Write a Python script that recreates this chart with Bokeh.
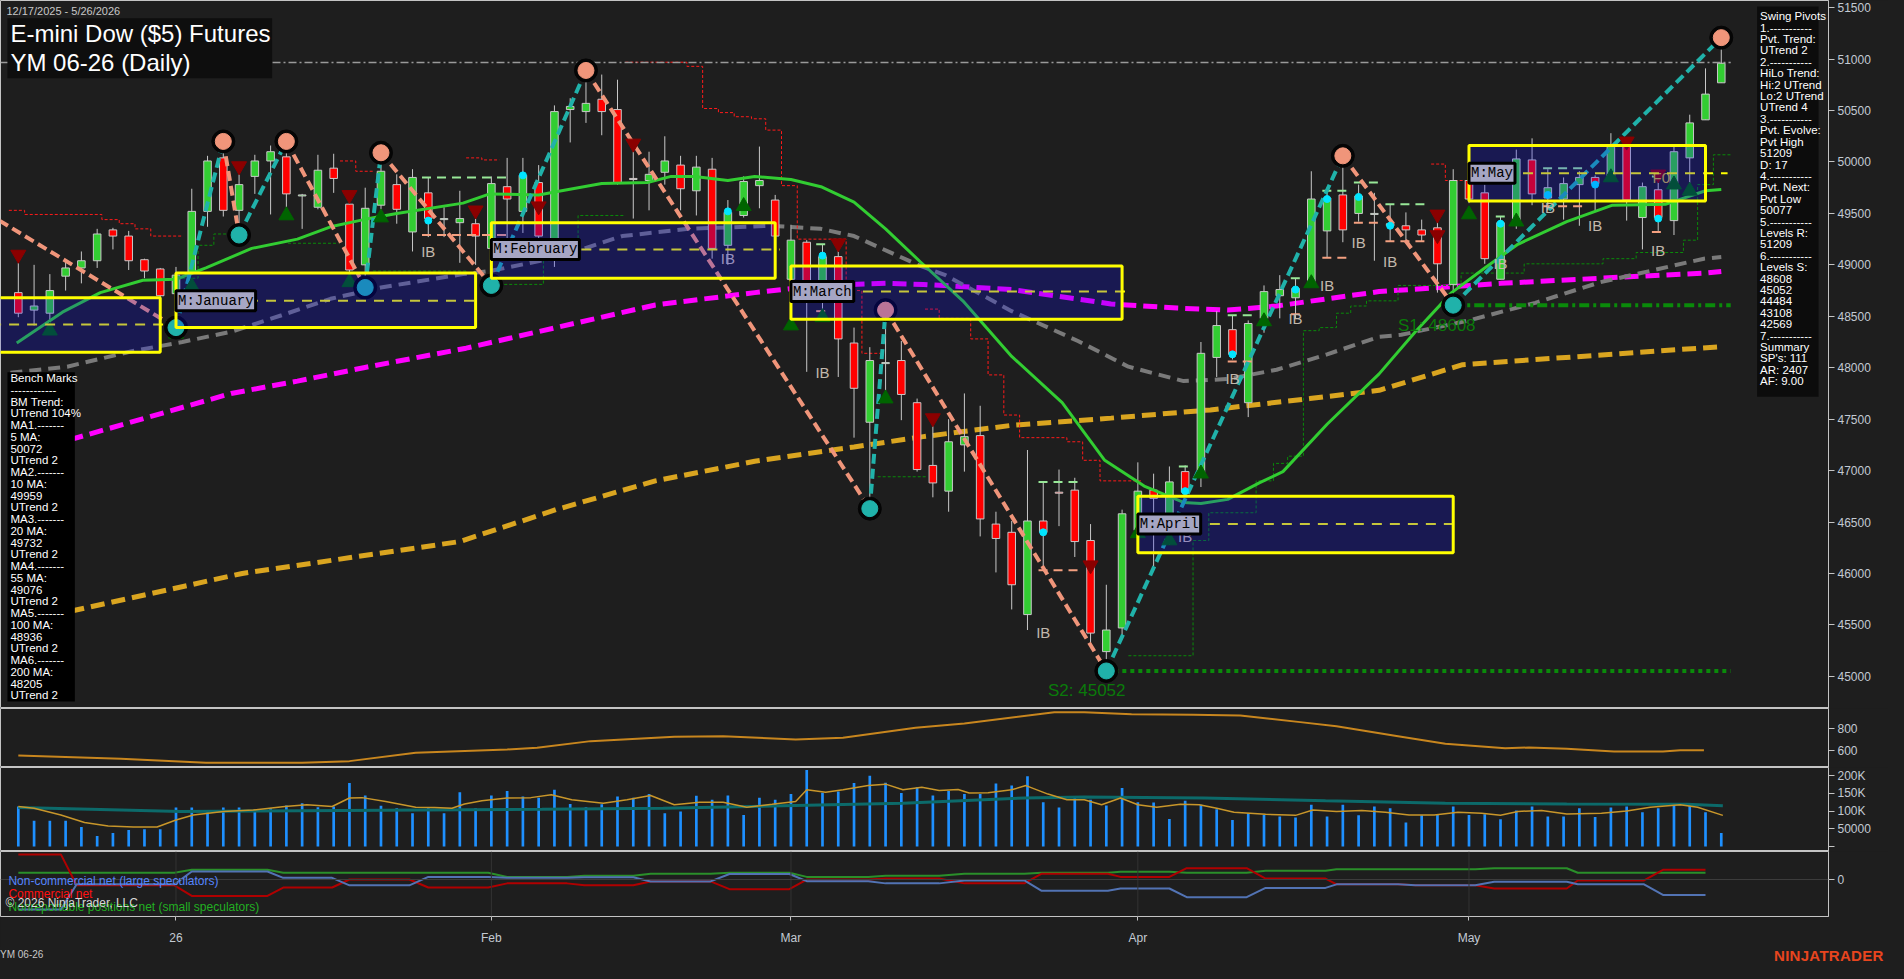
import numpy as np
from bokeh.plotting import figure
from bokeh.layouts import column
from bokeh.models import Range1d, FixedTicker, Label, BoxAnnotation, Span, Div, GlobalInlineStyleSheet
from bokeh.core.properties import value
from bokeh.embed import file_html
from bokeh.resources import INLINE

# ---------------------------------------------------------------- data
# daily bars 12/17/2025 .. 5/26/2026 (index 0 = Dec 17)
opens = [48730, 48560, 48530, 48890, 48970, 49040, 49340, 49280, 49050, 48960,
         48720, 48920, 49520, 50040, 49530, 49860, 50010, 50050, 49670, 49560,
         49940, 49590, 49000, 49580, 49780, 49320, 49700, 49440, 49410, 49400,
         49160, 49760, 49520, 49800, 49160, 50510, 50490, 50610, 50510, 49840,
         49820, 49900, 49970, 49720, 49930, 49190, 49480, 49770, 49630,
         48860, 49220, 48840, 49080, 48240, 47470, 48040, 48070, 47660, 47050,
         46800, 47250, 47340, 46480, 46400, 45600, 46510, 46790, 46810, 46320,
         45240, 45470,
         46420, 46810, 46550, 46990, 46970, 48100, 48370, 47660, 48480, 48700,
         48680, 48810, 49330, 49680, 49500, 49490, 49380, 49380, 49340, 49360,
         48810,
         49820, 49700, 48860, 49390, 50020, 49650, 49640, 49780, 49850, 49840,
         50150, 49460, 49730, 49430, 50040, 50410, 50770]
highs = [49017, 49000, 48910, 49050, 49130, 49350, 49360, 49330, 49060, 48970,
         48980, 49740, 50060, 50200, 49880, 50070, 50160, 50200, 49690, 50070,
         50080, 49680, 49750, 50090, 49880, 49930, 49850, 49560, 49720, 49450,
         49860, 50040, 50040, 49970, 50550, 50620, 50890, 50850, 50800, 50100,
         50100, 50250, 50060, 50060, 50040, 49630, 49860, 50150, 49680,
         49390, 49240, 49200, 49160, 48390, 48200, 48560, 48260, 47700, 47440,
         47500, 47750, 47630, 46600, 46510, 47200, 46890, 47010, 46930, 46480,
         45890, 46620,
         47080, 46970, 47040, 47050, 48250, 48550, 48510, 48460, 48800, 48900,
         48870, 49910, 49730, 50060, 49780, 49700, 49590, 49510, 49440, 49530,
         49930,
         49900, 49780, 49470, 50120, 50230, 49930, 49850, 49910, 49870, 50280,
         50200, 49800, 49830, 50160, 50460, 50910, 51209]
lows = [48491, 48410, 48410, 48750, 48820, 48970, 49150, 48950, 48870, 48650,
        48390, 48920, 49370, 49470, 49290, 49690, 49490, 49560, 49350, 49540,
        49700, 48870, 48780, 49470, 49400, 49130, 49270, 49270, 49020, 49000,
        48800, 49160, 49310, 49120, 48980, 50190, 50380, 50260, 49780, 49450,
        49530, 49780, 49530, 49480, 49060, 49000, 49460, 49550, 49270,
        48840, 47960, 48530, 47910, 47320, 46630, 47750, 47490, 46990, 46740,
        46600, 46990, 46360, 46010, 45650, 45450, 46030, 46460, 46160, 45330,
        45052, 45360,
        46330, 46070, 46280, 46780, 46840, 47910, 48080, 47520, 48340, 48480,
        48480, 48800, 49070, 49220, 49420, 49040, 49230, 49230, 49230, 48730,
        48608,
        49600, 49010, 48860, 49350, 49580, 49530, 49440, 49380, 49520, 49820,
        49430, 49150, 49330, 49290, 49770, 50410, 50770]
closes = [48530, 48600, 48750, 48970, 49040, 49300, 49280, 49040, 48940, 48700,
          48900, 49520, 50010, 49530, 49780, 50010, 50100, 49690, 49680, 49920,
          49840, 48950, 49550, 49910, 49540, 49850, 49450, 49450, 49450, 49280,
          49790, 49640, 49870, 49280, 50490, 50540, 50570, 50490, 49800, 49830,
          49880, 50010, 49740, 49950, 49160, 49510, 49810, 49820, 49280,
          49240, 48840, 49080, 48280, 47800, 48070, 48050, 47740, 47010, 46880,
          47280, 47330, 46530, 46340, 45890, 46510, 46400, 46780, 46310, 45420,
          45450, 46580,
          46800, 46730, 46890, 46790, 48140, 48410, 48130, 48430, 48740, 48760,
          48770, 49640, 49650, 49340, 49670, 49500, 49400, 49340, 49290, 49010,
          49820,
          49640, 49060, 49410, 50030, 49690, 49750, 49790, 49850, 49790, 50160,
          49630, 49760, 49460, 50100, 50380, 50660, 50960]

# daily volume, thousands of contracts
volume_k = [113, 73, 73, 73, 55, 30, 38, 47, 49, 49,
            110, 110, 103, 110, 110, 103, 108, 116, 122, 111,
            113, 179, 144, 115, 108, 94, 108, 94, 153, 108,
            144, 157, 141, 138, 160, 120, 111, 119, 141, 138,
            148, 94, 99, 143, 132, 144, 89, 138, 132,
            148, 216, 152, 155, 179, 200, 180, 151, 167, 144,
            157, 148, 148, 178, 172, 198, 125, 110, 138, 132,
            116, 165,
            125, 124, 78, 129, 118, 105, 75, 94, 89, 85,
            82, 118, 85, 118, 88, 113, 108, 68, 88, 91,
            113,
            89, 91, 77, 102, 113, 85, 85, 108, 83, 110,
            113, 97, 108, 116, 119, 97, 38]
vol_avg_x = [0.0, 1.0, 2.7, 4.2, 5.7, 7.3, 8.8, 10.0, 11.1, 13.0, 14.9, 16.9, 18.3, 19.9, 21.0,
             21.8, 23.3, 25.2, 26.4, 27.5, 28.3, 29.4, 31.0, 32.5, 33.8, 35.1, 37.1, 38.6,
             40.1, 41.6, 43.2, 44.7, 46.2, 47.8, 49.3, 50.0, 51.2, 52.3, 53.9, 55.0, 56.1,
             57.3, 58.4, 59.6, 60.3, 61.5, 63.0, 63.9, 65.3, 66.5, 67.6, 68.7, 69.9, 71.0,
             72.2, 73.7, 74.9, 76.0, 77.1, 79.1, 81.0, 82.1, 83.6, 85.2, 86.7, 88.2, 89.8,
             91.3, 92.8, 94.0, 95.1, 96.6, 98.2, 100.4, 102.0, 103.5, 105.4, 106.5, 108.1]
vol_avg_k = [113, 108, 89, 68, 58, 55, 55, 75, 89, 99, 103, 113, 118, 113, 137, 138, 127, 111,
             110, 108, 120, 129, 137, 138, 146, 132, 122, 132, 144, 118, 125, 125, 111, 119,
             127, 160, 153, 160, 172, 176, 160, 167, 158, 161, 151, 152, 160, 172, 148, 132,
             132, 118, 137, 118, 111, 119, 118, 108, 97, 91, 88, 103, 99, 102, 97, 89, 89,
             97, 94, 88, 99, 102, 92, 94, 100, 111, 118, 111, 88]
oi_x = [0.0, 6.5, 10.3, 18.0, 25.6, 33.2, 40.9, 48.5, 56.1, 63.8, 67.6, 75.2, 82.9, 90.5,
        98.2, 105.8, 108.1]
oi_k = [110, 103, 99, 101, 103, 105, 108, 115, 122, 137, 140, 137, 129, 122, 120, 119, 115]

# 20 / 55 / 100 / 200 day moving averages
ma20_x = [-0.1, 2.8, 5.2, 7.9, 10, 11.9, 14.8, 17.7, 19.8, 21.9, 24, 28.2, 29.9, 33, 34.1, 37,
          39.9, 41.4, 42.9, 45, 46.7, 49, 50.9, 53, 55, 57.2, 59.9, 63, 66.2, 68.9, 71.4,
          73.9, 75, 76.7, 78.7, 80.2, 83, 86.3, 88.6, 90.9, 93, 95.1, 98.2, 101.1, 104.5, 107, 108]
ma20_y = [48240, 48540, 48730, 48850, 48860, 48970, 49160, 49250, 49370, 49440, 49500, 49600,
          49690, 49680, 49710, 49790, 49800, 49860, 49860, 49820, 49860, 49830, 49760, 49610,
          49350, 49030, 48650, 48110, 47660, 47100, 46850, 46690, 46680, 46720, 46880, 46990,
          47450, 47940, 48350, 48730, 48970, 49200, 49420, 49580, 49590, 49720, 49732]
ma55_x = [-0.5, 3.1, 7.2, 10.4, 13.5, 16.7, 19.8, 23, 28.2, 29.9, 34.1, 38.3, 42.5, 47.7, 50.9,
          53, 57.2, 58.8, 63, 67.2, 70.4, 73.9, 76.7, 79.8, 83, 86.3, 87.7, 92, 96.2, 100.3,
          106.9, 108]
ma55_y = [47950, 48010, 48160, 48250, 48350, 48510, 48670, 48780, 48910, 48940, 49070, 49280,
          49350, 49380, 49350, 49280, 48990, 48900, 48550, 48260, 48010, 47870, 47890, 47980,
          48130, 48300, 48320, 48460, 48630, 48830, 49060, 49076]
ma100_x = [-0.6, 13.5, 17.7, 21.9, 28.4, 34.1, 40.4, 46.7, 50.9, 55, 57.4, 63, 69.3, 73.5,
           76.7, 79.8, 83, 86.3, 94, 100.3, 106.9, 108]
ma100_y = [47130, 47750, 47870, 48000, 48190, 48390, 48610, 48730, 48800, 48820, 48810, 48760,
           48620, 48580, 48560, 48600, 48670, 48740, 48820, 48870, 48920, 48936]
ma200_x = [-0.6, 14.2, 28, 34.1, 40.4, 46.7, 53, 57.4, 63, 69.3, 75.6, 81.9, 86.3, 91.6, 108]
ma200_y = [45500, 46000, 46310, 46620, 46900, 47090, 47230, 47330, 47440, 47510, 47590, 47700,
           47780, 48030, 48205]

# swing pivots (bar, price, kind)
pivot_bar = [10, 13, 14, 17, 22, 23, 30, 36, 54, 55, 69, 84, 91, 108]
pivot_px = [48390, 50200, 49290, 50200, 48780, 50090, 48800, 50890, 46630, 48560, 45052,
            50060, 48608, 51209]
pivot_kind = ["L", "H", "L", "H", "L", "H", "L", "H", "L", "H", "L", "H", "L", "H"]
swing_start = (-1.2, 49430)   # leg entering from the left edge

# monthly range boxes
box_left = [-12, 10, 30, 49, 71, 92]
box_right = [9, 29, 48, 70, 91, 107]
box_top = [48680, 48920, 49410, 48990, 46750, 50160]
box_bot = [48150, 48390, 48870, 48470, 46200, 49620]
box_mid = [48420, 48650, 49150, 48740, 46480, 49890]
box_name = ["", "M:January", "M:February", "M:March", "M:April", "M:May"]

# trailing stop steps (start bar, end bar, level)
red_trails = [
    [(-0.6, 0.4, 49530), (0.4, 5.3, 49490), (5.3, 6.4, 49440), (6.4, 7.4, 49400),
     (7.4, 8.4, 49350), (8.4, 10.4, 49280)],
    [(20.4, 21.4, 50010), (21.4, 22.5, 49910)],
    [(28.4, 29.4, 50040), (29.4, 30.5, 50020)],
    [(38.5, 42.4, 50970), (42.4, 43.4, 50930), (43.4, 44.4, 50520), (44.4, 45.4, 50480),
     (45.4, 46.5, 50440), (46.5, 47.4, 50420), (47.4, 48.4, 50310), (48.4, 49.4, 49770),
     (49.4, 52.5, 49250), (52.5, 53.5, 48750), (53.5, 54.7, 48140)],
    [(57.5, 58.4, 48570), (58.4, 60.4, 48480), (60.4, 61.5, 48280), (61.5, 62.5, 47930),
     (62.5, 63.5, 47540), (63.5, 66.5, 47320), (66.5, 67.5, 47280), (67.5, 68.6, 47100),
     (68.6, 71.2, 46900)],
    [(89.6, 90.5, 49980), (90.5, 91.8, 49820)],
]
green_trails = [
    [(10.4, 11.4, 48870), (11.4, 12.4, 49190), (12.4, 13.5, 49300)],
    [(17.1, 20.3, 49210)],
    [(22.5, 28.4, 48940)],
    [(30.5, 33.3, 48810), (33.3, 35.5, 49250), (35.5, 38.5, 49480)],
    [(54.5, 57.6, 46940)],
    [(70.4, 74.5, 45200), (74.5, 75.5, 46320), (75.5, 78.5, 46590), (78.5, 79.6, 46900),
     (79.6, 80.5, 47070), (80.5, 81.5, 47140), (81.5, 82.5, 48360), (82.5, 83.6, 48390),
     (83.6, 84.5, 48530), (84.5, 85.5, 48600), (85.5, 87.5, 48650), (87.5, 91.5, 48800),
     (91.5, 95.5, 48920), (95.5, 100.5, 49010), (100.5, 102.6, 49060), (102.6, 105.6, 49120),
     (105.6, 106.5, 49240), (106.5, 107.5, 49780), (107.5, 108.6, 50070)],
]

# inside-bar range marks
ib_hi = [(25.6, 31.3, 49850), (50.6, 51.4, 49200), (64.7, 67.4, 46890), (73.6, 74.4, 47040),
         (76.7, 78.4, 48510), (80.7, 81.4, 48870), (82.7, 84.4, 49720), (84.7, 86.4, 49800),
         (86.7, 89.4, 49590), (93.7, 94.4, 49470), (96.7, 99.4, 49940), (103.6, 104.4, 49860)]
ib_lo = [(25.6, 31.3, 49290), (50.6, 51.4, 48550), (64.7, 67.4, 46030), (76.7, 78.4, 48060),
         (80.7, 81.4, 48520), (82.7, 84.4, 49070), (84.7, 86.4, 49410), (86.7, 89.4, 49230),
         (96.7, 99.4, 49570), (103.6, 104.4, 49320)]
ib_text_bar = [26, 32, 45, 51, 65, 74, 77, 81, 83, 85, 87, 94, 97, 100, 104]
ib_text_px = [49130, 49210, 49060, 47950, 45430, 46360, 47900, 48480, 48800, 49220, 49030,
              49010, 49560, 49380, 49140]
dot_bar = [26, 32, 45, 51, 65, 74, 77, 81, 83, 85, 87, 94, 97, 100, 104]
dot_px = [49430, 49870, 49520, 49090, 46400, 46800, 48130, 48760, 49640, 49660, 49380, 49400,
          49680, 49780, 49450]
dn_bar = [0, 14, 21, 29, 33, 39, 52, 58, 68, 90, 90, 102, 104]
dn_px = [49100, 49960, 49680, 49530, 49570, 50180, 49210, 47510, 46080, 49490, 49290, 50200, 49880]
up_bar = [2, 10, 11, 17, 21, 23, 46, 49, 51, 55, 71, 73, 75, 79, 82, 92, 95, 101, 105, 106]
up_px = [48360, 48330, 48790, 49480, 48830, 49460, 49570, 48410, 48490, 47700, 46390, 46320,
         46970, 48450, 48820, 49490, 49420, 49850, 49780, 49720]

last_price = 50967
s1_level, s2_level = 48608, 45052

# ATR-like panel
atr_x = [0, 6.5, 11.9, 18, 21, 25.2, 31, 32.9, 36.3, 41.6, 44.7, 49.3, 52.3, 56.9, 60, 65.7,
         67.6, 70.6, 74.5, 77.5, 81.3, 83.6, 87.5, 90.5, 94.3, 95.8, 98.2, 101.2, 104.3, 105.4,
         106.9]
atr_y = [558, 527, 491, 491, 506, 582, 612, 627, 688, 727, 733, 703, 718, 809, 848, 951, 951,
         933, 927, 921, 861, 824, 733, 664, 624, 630, 618, 594, 594, 606, 606]

# COT weekly positions (thousands, net): week start/end bars and values
cot_wk_start = [0.0, 3.7, 11.0, 16.8, 21.0, 26.0, 31.0, 35.9, 40.1, 45.1, 50.0, 55.0, 60.0,
                64.9, 69.9, 74.1, 79.1, 83.6, 88.6, 93.6, 98.9, 104.3]
cot_wk_end = [2.7, 9.9, 15.8, 19.9, 24.8, 29.8, 34.8, 39.0, 43.9, 48.9, 53.9, 58.4, 63.8,
              69.1, 73.0, 77.9, 82.9, 87.5, 92.4, 98.2, 103.1, 107.0]
cot_noncomm = [-31, -5, 8.3, 1.7, -6, 2.7, 1.7, 2.3, -2, 5.7, -1.7, -4, -1, -11.7, -9.3, -18.3,
               -8.7, -5, -6, -2.3, -5, -16]
cot_comm = [26, -6, -17, -8.3, 0, -8.3, -4, -6, -2, -10, 0, 1, -4, 6, 2.7, 11.7, 1, -5, -6,
            -9.3, -1, 10]
cot_small = [7, 7, 10, 7, 7, 7, 2.7, 4, 6, 7, 2.7, 4, 6, 7, 8, 7, 9, 10.7, 10.7, 11.7, 7, 7]

month_bars = [10, 30, 49, 71, 92]
month_labels = ["26", "Feb", "Mar", "Apr", "May"]

swing_lines = ["Swing Pivots", "1.-----------", "Pvt. Trend:", "UTrend 2", "2.-----------",
               "HiLo Trend:", "Hi:2 UTrend", "Lo:2 UTrend", "UTrend 4", "3.-----------",
               "Pvt. Evolve:", "Pvt High", "51209", "D: 17", "4.-----------", "Pvt. Next:",
               "Pvt Low", "50077", "5.-----------", "Levels R:", "51209", "6.-----------",
               "Levels S:", "48608", "45052", "44484", "43108", "42569", "7.-----------",
               "Summary", "SP's: 111", "AR: 2407", "AF: 9.00"]
bench_lines = ["Bench Marks", "------------", "BM Trend:", "UTrend 104%", "MA1.-------", "5 MA:",
               "50072", "UTrend 2", "MA2.-------", "10 MA:", "49959", "UTrend 2", "MA3.-------",
               "20 MA:", "49732", "UTrend 2", "MA4.-------", "55 MA:", "49076", "UTrend 2",
               "MA5.-------", "100 MA:", "48936", "UTrend 2", "MA6.-------", "200 MA:", "48205",
               "UTrend 2"]

# ---------------------------------------------------------------- layout
BG = "#1e1e1e"
AXC = "#c3cad3"
SEP = "#c4c4c4"
FONT = "Liberation Sans"
W = 1888
RB = 60
FW = W - RB          # frame width
H1, H2, H3, H4, HB, HS = 708, 59, 84, 66, 30, 16
REFW, REFH = 1844.0, 720.0

XR = Range1d(-1.13, 114.8)


def mkfig(h, yr, ticks, bottom=0, overrides=None, grid=False):
    f = figure(width=W, height=h + bottom, x_range=XR, y_range=yr, output_backend="svg",
               toolbar_location=None, y_axis_location="right",
               x_axis_location=("below" if bottom else None),
               min_border_left=0, min_border_right=RB, min_border_top=0, min_border_bottom=bottom,
               background_fill_color=BG, border_fill_color=BG, outline_line_color=SEP,
               outline_line_width=1)
    f.grid.visible = False
    ax = f.yaxis[0]
    ax.ticker = FixedTicker(ticks=ticks)
    if overrides:
        ax.major_label_overrides = overrides
    ax.axis_line_color = SEP
    ax.major_tick_line_color = SEP
    ax.major_tick_out = 6
    ax.major_tick_in = 0
    ax.minor_tick_line_color = None
    ax.major_label_text_color = AXC
    ax.major_label_text_font = FONT
    ax.major_label_text_font_size = "12px"
    ax.major_label_standoff = 3
    if grid:
        for b in month_bars:
            f.add_layout(Span(location=b, dimension="height", line_color="#333333", line_width=1))
    return f


def sx(x):   # reference pixel -> screen x inside frame
    return x * FW / REFW


def sy(y, h=H1, refh=REFH):
    return h - y * h / refh


def lab(fig, x, y, t, size="11px", color="#ffffff", font=FONT, **kw):
    fig.add_layout(Label(x=x, y=y, x_units="screen", y_units="screen", text=t, text_font=font,
                         text_font_size=size, text_color=color, text_baseline="middle", **kw))


# ---------------------------------------------------------------- main panel
p = mkfig(H1, Range1d(44687, 51570), list(range(45000, 51501, 500)))

o, hi, lo, c = map(np.array, (opens, highs, lows, closes))
idx = np.arange(len(o))
up = c >= o

# moving averages
p.line(ma200_x, ma200_y, line_color="#daa520", line_width=5, line_dash="14 7")
p.line(ma100_x, ma100_y, line_color="#ff00ff", line_width=5, line_dash="14 7")
p.line(ma55_x, ma55_y, line_color="#7a7a7a", line_width=4, line_dash="12 7")

# trailing stop steps
for trails, col in ((red_trails, "#ff1a1a"), (green_trails, "#0a8a0a")):
    xs_all, ys_all = [], []
    for tr in trails:
        xs, ys = [], []
        for (a, b, lvl) in tr:
            xs += [a, b]
            ys += [lvl, lvl]
        xs_all.append(xs)
        ys_all.append(ys)
    p.multi_line(xs_all, ys_all, line_color=col, line_width=1, line_dash="3 2")

# price
p.segment(idx, hi, idx, lo, line_color="#c8c8c8", line_width=1)
p.vbar(x=idx[up], top=c[up], bottom=o[up], width=0.48, fill_color="#32cd32", line_color="#c8c8c8")
p.vbar(x=idx[~up], top=o[~up], bottom=c[~up], width=0.48, fill_color="#ff0000", line_color="#c8c8c8")

p.line(ma20_x, ma20_y, line_color="#32cd32", line_width=3)

# inside bar range marks
p.multi_line([[a, b] for a, b, _ in ib_hi], [[v, v] for _, _, v in ib_hi],
             line_color="#98e898", line_width=2, line_dash="9 6")
p.multi_line([[a, b] for a, b, _ in ib_lo], [[v, v] for _, _, v in ib_lo],
             line_color="#f4a080", line_width=2, line_dash="9 6")

# support lines & last price
p.line([-1.13, 108.6], [last_price, last_price], line_color="#9a9a9a", line_width=1.5,
       line_dash="8 3 2 3")
p.line([91, 108.6], [s1_level, s1_level], line_color="#0a8a0a", line_width=4, line_dash="10 4 3 4")
p.line([69, 108.6], [s2_level, s2_level], line_color="#0a8a0a", line_width=4, line_dash="4 4")

# swing legs
pts = [swing_start] + list(zip(pivot_bar, pivot_px))
kinds = ["H"] + pivot_kind
for k in range(len(pts) - 1):
    col = "#f0957a" if kinds[k] == "H" else "#20b2aa"
    p.line([pts[k][0], pts[k + 1][0]], [pts[k][1], pts[k + 1][1]], line_color=col,
           line_width=4, line_dash="10 5")

# markers
p.scatter(dn_bar, dn_px, marker="inverted_triangle", size=15, color="#8b0000")
p.scatter(up_bar, up_px, marker="triangle", size=15, color="#006400")
p.scatter(dot_bar, dot_px, marker="circle", size=7, color="#00e5ff")
p.text(ib_text_bar, ib_text_px, text=["IB"] * len(ib_text_bar), text_color="#c2b8ac",
       text_font=value(FONT), text_font_size="15px", text_align="center", text_baseline="middle")

pk = np.array(pivot_kind)
pb = np.array(pivot_bar)
pp = np.array(pivot_px)
p.scatter(pb, pp, marker="circle", size=23, color="#050505")
p.scatter(pb[pk == "H"], pp[pk == "H"], marker="circle", size=16, color="#f0957a")
p.scatter(pb[pk == "L"], pp[pk == "L"], marker="circle", size=16, color="#20b2aa")

p.text([87.5], [48415], text=["S1: 48608"], text_color="#0a7a0a", text_font=value(FONT),
       text_font_size="17px", text_baseline="middle")
p.text([65.3], [44860], text=["S2: 45052"], text_color="#0a7a0a", text_font=value(FONT),
       text_font_size="17px", text_baseline="middle")
p.text([104.2], [49850], text=["F0"], text_color="#c8b43c", text_font=value(FONT),
       text_font_size="15px", text_align="center", text_baseline="middle")

# monthly boxes: mid lines (under the box tint) then boxes then labels
for L, R, M in zip(box_left, box_right, box_mid):
    right_ext = R + 0.3 if R < 100 else 108.4
    p.line([L, right_ext], [M, M], line_color="#ffff00", line_width=2, line_dash="10 8")
for L, R, T, B in zip(box_left, box_right, box_top, box_bot):
    p.add_layout(BoxAnnotation(left=L, right=R, top=T, bottom=B, fill_color="#0a0aff",
                               fill_alpha=0.23, line_color="#ffff00", line_width=3, line_alpha=1))
for L, M, name in zip(box_left, box_mid, box_name):
    if name:
        p.add_layout(Label(x=L, y=M, text=name, text_font="Liberation Mono",
                           text_font_size="14px", text_color="#000000", text_baseline="middle",
                           background_fill_color="#a6a6c4", border_line_color="#000000",
                           border_line_width=3, padding=2))

# title block
p.add_layout(BoxAnnotation(left=sx(7), right=sx(274), top=sy(18), bottom=sy(79), left_units="screen",
                           right_units="screen", top_units="screen", bottom_units="screen",
                           fill_color="#0e0e0e", fill_alpha=1, line_color=None))
lab(p, sx(6), sy(11), "12/17/2025 - 5/26/2026", color="#c8c8c8")
lab(p, sx(10), sy(34), "E-mini Dow ($5) Futures", size="24px")
lab(p, sx(10), sy(63), "YM 06-26 (Daily)", size="24px")

# swing pivots box
p.add_layout(BoxAnnotation(left=sx(1772), right=sx(1834), top=sy(6), bottom=sy(403),
                           left_units="screen", right_units="screen", top_units="screen",
                           bottom_units="screen", fill_color="#0c0c0c", fill_alpha=1, line_color=None))
for k, t in enumerate(swing_lines):
    lab(p, sx(1775), sy(16 + k * 11.6), t, size="11.5px")
# bench marks box
p.add_layout(BoxAnnotation(left=sx(7), right=sx(75), top=sy(378), bottom=sy(713),
                           left_units="screen", right_units="screen", top_units="screen",
                           bottom_units="screen", fill_color="#000000", fill_alpha=1, line_color=None))
for k, t in enumerate(bench_lines):
    lab(p, sx(10), sy(384 + k * 11.95), t, size="11.5px")

# ---------------------------------------------------------------- ATR-like panel
p2 = mkfig(H2, Range1d(448, 985), [600, 800])
p2.line(atr_x, atr_y, line_color="#c8861e", line_width=2)

# ---------------------------------------------------------------- volume panel
p3 = mkfig(H3, Range1d(-14000, 223000), [0, 50000, 100000, 150000, 200000],
           overrides={0: "", 50000: "50000", 100000: "100K", 150000: "150K", 200000: "200K"})
p3.vbar(x=idx, top=np.array(volume_k) * 1000, bottom=0, width=0.17, fill_color="#1e90ff",
        line_color=None)
p3.line(oi_x, np.array(oi_k) * 1000, line_color="#0c6a6a", line_width=3)
p3.line(vol_avg_x, np.array(vol_avg_k) * 1000, line_color="#c8962a", line_width=1.5)

# ---------------------------------------------------------------- COT panel
p4 = mkfig(H4, Range1d(-38.3, 29), [0], bottom=HB, grid=True)
p4.add_layout(Span(location=0, dimension="width", line_color="#3c3c3c", line_width=1))
cx = []
for a, b in zip(cot_wk_start, cot_wk_end):
    cx += [a, b]


def dbl(v):
    out = []
    for q in v:
        out += [q, q]
    return out


p4.line(cx, dbl(cot_small), line_color="#2a8f2a", line_width=2)
p4.line(cx, dbl(cot_comm), line_color="#b00000", line_width=2)
p4.line(cx, dbl(cot_noncomm), line_color="#5273b4", line_width=2)
xa = p4.xaxis[0]
xa.ticker = FixedTicker(ticks=month_bars)
xa.major_label_overrides = {b: s for b, s in zip(month_bars, month_labels)}
xa.axis_line_color = None
xa.major_tick_line_color = SEP
xa.major_tick_out = 4
xa.major_tick_in = 0
xa.minor_tick_line_color = None
xa.major_label_text_color = AXC
xa.major_label_text_font = FONT
xa.major_label_text_font_size = "12px"
xa.major_label_standoff = 10

for t, col, yy in (("Non-commercial net (large speculators)", "#5585ff", 36),
                   ("Commercial net", "#ff1010", 23),
                   ("Nonreportable positions net (small speculators)", "#22b022", 10)):
    lab(p4, sx(8), yy, t, size="12px", color=col)
lab(p4, sx(5), 14, "\u00a9 2026 NinjaTrader, LLC", size="12px", color="#d8d8d8")

# ---------------------------------------------------------------- footer strip
footer = Div(
    text=('<div style="position:relative;width:1888px;height:16px;'
          'font-family:\'Liberation Sans\',sans-serif;overflow:hidden">'
          '<span style="position:absolute;left:0px;top:1px;font-size:10px;color:#c8c8c8">YM 06-26</span>'
          '<span style="position:absolute;left:1774px;top:-2px;font-size:15px;font-weight:bold;'
          'color:#e8451e;letter-spacing:0.3px">NINJATRADER</span></div>'),
    width=W, height=HS, styles={"background-color": BG, "margin": "0", "padding": "0"})

layout = column(p, p2, p3, p4, footer, spacing=0,
                styles={"background-color": BG},
                stylesheets=[GlobalInlineStyleSheet(css="html, body { background-color: #1e1e1e; }")])
open("out.html", "w").write(file_html(layout, INLINE))
